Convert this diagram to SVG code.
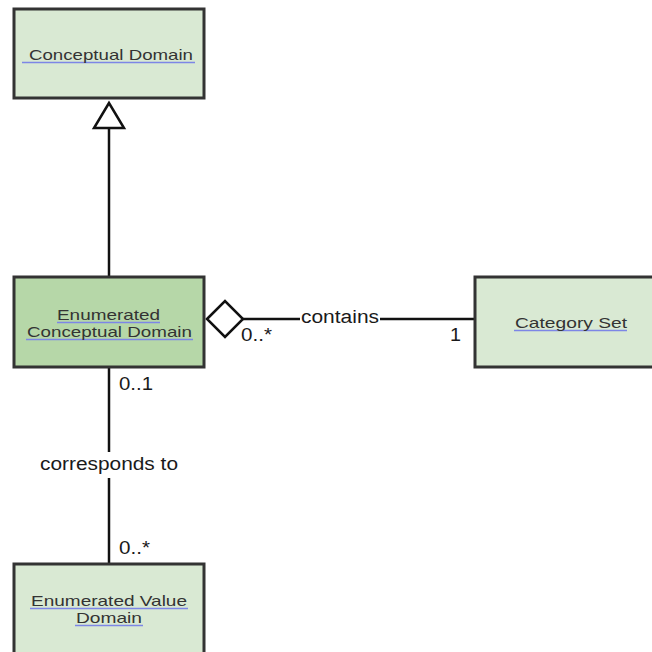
<svg xmlns="http://www.w3.org/2000/svg" width="652" height="652" viewBox="0 0 652 652">
<style>
.box{stroke:#333333;stroke-width:3}
.light{fill:#d9e9d3}
.dark{fill:#b6d7a8}
.t{font-family:"Liberation Sans",Arial,sans-serif;font-size:15px;fill:#333333}
.l{font-family:"Liberation Sans",Arial,sans-serif;font-size:18px;fill:#1a1a1a}
.u{stroke:#7d86e6;stroke-width:1.5}
.c{stroke:#111111;stroke-width:2.5;fill:none}
</style>
<rect width="652" height="652" fill="#ffffff"/>
<g id="connectors">
<line class="c" x1="109" y1="128" x2="109" y2="277"/>
<polygon points="109,103 94,128 124,128" fill="#ffffff" stroke="#111111" stroke-width="2.5"/>
<line class="c" x1="243" y1="319" x2="300" y2="319"/>
<line class="c" x1="380" y1="319" x2="475" y2="319"/>
<polygon points="207,319 225,301 243,319 225,337" fill="#ffffff" stroke="#111111" stroke-width="2.5"/>
<text class="l" x="301" y="323" textLength="78" lengthAdjust="spacingAndGlyphs">contains</text>
<text class="l" x="241" y="341" textLength="31" lengthAdjust="spacingAndGlyphs">0..*</text>
<text class="l" x="450" y="341" textLength="11" lengthAdjust="spacingAndGlyphs">1</text>
<line class="c" x1="109" y1="367" x2="109" y2="452"/>
<line class="c" x1="109" y1="478" x2="109" y2="564"/>
<text class="l" x="119" y="390" textLength="34" lengthAdjust="spacingAndGlyphs">0..1</text>
<text class="l" x="40" y="470" textLength="138" lengthAdjust="spacingAndGlyphs">corresponds to</text>
<text class="l" x="119" y="554" textLength="31" lengthAdjust="spacingAndGlyphs">0..*</text>
</g>
<g id="conceptual-domain">
<rect class="box light" x="14" y="9" width="190" height="89"/>
<line class="u" x1="22" y1="62.5" x2="195" y2="62.5"/>
<text class="t" x="29" y="60" textLength="164" lengthAdjust="spacingAndGlyphs">Conceptual Domain</text>
</g>
<g id="enumerated-conceptual-domain">
<rect class="box dark" x="14" y="277" width="190" height="90"/>
<line class="u" x1="57" y1="322.5" x2="160" y2="322.5"/>
<line class="u" x1="26" y1="339.5" x2="193" y2="339.5"/>
<text class="t" x="57" y="320" textLength="103" lengthAdjust="spacingAndGlyphs">Enumerated</text>
<text class="t" x="27" y="337" textLength="165" lengthAdjust="spacingAndGlyphs">Conceptual Domain</text>
</g>
<g id="category-set">
<rect class="box light" x="475" y="277" width="200" height="90"/>
<line class="u" x1="514" y1="330.5" x2="627" y2="330.5"/>
<text class="t" x="515" y="328" textLength="112" lengthAdjust="spacingAndGlyphs">Category Set</text>
</g>
<g id="enumerated-value-domain">
<rect class="box light" x="14" y="564" width="190" height="100"/>
<line class="u" x1="30" y1="608.5" x2="188" y2="608.5"/>
<line class="u" x1="75" y1="625.5" x2="143" y2="625.5"/>
<text class="t" x="31" y="606" textLength="156" lengthAdjust="spacingAndGlyphs">Enumerated Value</text>
<text class="t" x="76" y="623" textLength="66" lengthAdjust="spacingAndGlyphs">Domain</text>
</g>
</svg>
